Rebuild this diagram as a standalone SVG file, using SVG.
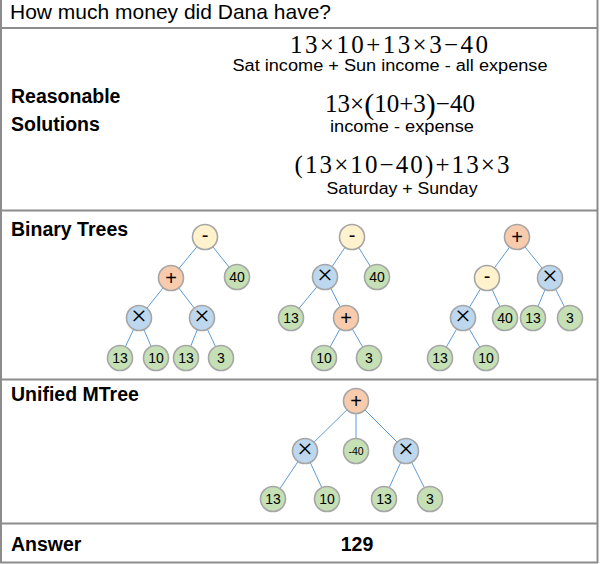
<svg xmlns="http://www.w3.org/2000/svg" width="600" height="564" viewBox="0 0 600 564">
<style>
.grid{stroke:#8c8c8c;stroke-width:2;fill:none}
.lbl{font-family:"Liberation Sans",Arial,sans-serif;font-weight:bold;font-size:19.5px;fill:#000}
.ttl{font-family:"Liberation Sans",Arial,sans-serif;font-size:21px;fill:#000}
.math{font-family:"Liberation Serif","Times New Roman",serif;font-size:25px;fill:#000;text-anchor:middle}
.sub{font-family:"Liberation Sans",Arial,sans-serif;font-size:16px;fill:#000;text-anchor:middle}
.edge{stroke:#5b9bd5;stroke-width:1}
.n{stroke:#a6a6a6;stroke-width:1.6}
.y{fill:#fff2cc}.o{fill:#f8cbad}.b{fill:#bdd7ee}.g{fill:#c5e0b4}
.t{font-family:"Liberation Sans",Arial,sans-serif;font-size:14px;fill:#000;text-anchor:middle}
.ts{font-family:"Liberation Sans",Arial,sans-serif;font-size:10.5px;fill:#000;text-anchor:middle}
.op{font-family:"Liberation Sans",Arial,sans-serif;font-size:20px;fill:#000;text-anchor:middle}
.x{font-family:"Liberation Serif","Times New Roman",serif;font-size:28px;fill:#000;text-anchor:middle}
</style>
<g id="table">
<line class="grid" x1="1" y1="0" x2="1" y2="563"/>
<line class="grid" x1="597.5" y1="0" x2="597.5" y2="563"/>
<line class="grid" x1="0" y1="28" x2="598" y2="28"/>
<line class="grid" x1="0" y1="210.5" x2="598" y2="210.5"/>
<line class="grid" x1="0" y1="379.5" x2="598" y2="379.5"/>
<line class="grid" x1="0" y1="523.5" x2="598" y2="523.5"/>
<line class="grid" x1="0" y1="562.5" x2="598" y2="562.5"/>
</g>
<g id="texts">
<text class="ttl" x="10" y="19">How much money did Dana have?</text>
<text class="lbl" x="11" y="103">Reasonable</text>
<text class="lbl" x="11" y="131">Solutions</text>
<text class="lbl" x="11" y="236">Binary Trees</text>
<text class="lbl" x="11" y="401">Unified MTree</text>
<text class="lbl" x="11" y="551">Answer</text>
<text class="lbl" x="357" y="551" text-anchor="middle">129</text>
<text class="math" x="389" y="52.5" textLength="198" lengthAdjust="spacing">13×10+13×3−40</text>
<text class="sub" x="390" y="71" textLength="315" lengthAdjust="spacingAndGlyphs">Sat income + Sun income - all expense</text>
<text class="math" x="400" y="112">13×<tspan font-size="30" dy="1.5">(</tspan><tspan dy="-1.5">10+3</tspan><tspan font-size="30" dy="1.5">)</tspan><tspan dy="-1.5">−40</tspan></text>
<text class="sub" x="402" y="132" textLength="144" lengthAdjust="spacingAndGlyphs">income - expense</text>
<text class="math" x="402" y="173" textLength="215" lengthAdjust="spacing">(13×10−40)+13×3</text>
<text class="sub" x="402" y="194" textLength="151" lengthAdjust="spacingAndGlyphs">Saturday + Sunday</text>
</g>
<g id="connectors">
<line class="edge" x1="205" y1="237" x2="171" y2="278"/>
<line class="edge" x1="205" y1="237" x2="237" y2="277"/>
<line class="edge" x1="171" y1="278" x2="139" y2="318"/>
<line class="edge" x1="171" y1="278" x2="202" y2="318"/>
<line class="edge" x1="139" y1="318" x2="120" y2="358"/>
<line class="edge" x1="139" y1="318" x2="156" y2="358"/>
<line class="edge" x1="202" y1="318" x2="186" y2="358"/>
<line class="edge" x1="202" y1="318" x2="221" y2="358"/>
<line class="edge" x1="352" y1="237" x2="325" y2="277"/>
<line class="edge" x1="352" y1="237" x2="377" y2="277"/>
<line class="edge" x1="325" y1="277" x2="291" y2="318"/>
<line class="edge" x1="325" y1="277" x2="346" y2="318"/>
<line class="edge" x1="346" y1="318" x2="324" y2="358"/>
<line class="edge" x1="346" y1="318" x2="369" y2="358"/>
<line class="edge" x1="517" y1="237" x2="487" y2="278"/>
<line class="edge" x1="517" y1="237" x2="550" y2="278"/>
<line class="edge" x1="487" y1="278" x2="463" y2="318"/>
<line class="edge" x1="487" y1="278" x2="505" y2="318"/>
<line class="edge" x1="550" y1="278" x2="533" y2="318"/>
<line class="edge" x1="550" y1="278" x2="570" y2="318"/>
<line class="edge" x1="463" y1="318" x2="440" y2="358"/>
<line class="edge" x1="463" y1="318" x2="486" y2="358"/>
<line class="edge" x1="356" y1="401" x2="305" y2="451"/>
<line class="edge" x1="356" y1="401" x2="356" y2="451"/>
<line class="edge" x1="356" y1="401" x2="406" y2="451"/>
<line class="edge" x1="305" y1="451" x2="273" y2="499"/>
<line class="edge" x1="305" y1="451" x2="327" y2="499"/>
<line class="edge" x1="406" y1="451" x2="384" y2="499"/>
<line class="edge" x1="406" y1="451" x2="430" y2="499"/>
</g>
<g id="t1_root"><circle class="n y" cx="205" cy="237" r="12.5"/><text class="op" x="205" y="242">-</text></g>
<g id="t1_plus"><circle class="n o" cx="171" cy="278" r="12.5"/><text class="op" x="171" y="285">+</text></g>
<g id="t1_40"><circle class="n g" cx="237" cy="277" r="12.5"/><text class="t" x="237" y="282">40</text></g>
<g id="t1_x1"><circle class="n b" cx="139" cy="318" r="12.5"/><text class="x" x="139" y="325">×</text></g>
<g id="t1_x2"><circle class="n b" cx="202" cy="318" r="12.5"/><text class="x" x="202" y="325">×</text></g>
<g id="t1_13a"><circle class="n g" cx="120" cy="358" r="12.5"/><text class="t" x="120" y="363">13</text></g>
<g id="t1_10"><circle class="n g" cx="156" cy="358" r="12.5"/><text class="t" x="156" y="363">10</text></g>
<g id="t1_13b"><circle class="n g" cx="186" cy="358" r="12.5"/><text class="t" x="186" y="363">13</text></g>
<g id="t1_3"><circle class="n g" cx="221" cy="358" r="12.5"/><text class="t" x="221" y="363">3</text></g>
<g id="t2_root"><circle class="n y" cx="352" cy="237" r="12.5"/><text class="op" x="352" y="242">-</text></g>
<g id="t2_x"><circle class="n b" cx="325" cy="277" r="12.5"/><text class="x" x="325" y="284">×</text></g>
<g id="t2_40"><circle class="n g" cx="377" cy="277" r="12.5"/><text class="t" x="377" y="282">40</text></g>
<g id="t2_13"><circle class="n g" cx="291" cy="318" r="12.5"/><text class="t" x="291" y="323">13</text></g>
<g id="t2_plus"><circle class="n o" cx="346" cy="318" r="12.5"/><text class="op" x="346" y="325">+</text></g>
<g id="t2_10"><circle class="n g" cx="324" cy="358" r="12.5"/><text class="t" x="324" y="363">10</text></g>
<g id="t2_3"><circle class="n g" cx="369" cy="358" r="12.5"/><text class="t" x="369" y="363">3</text></g>
<g id="t3_root"><circle class="n o" cx="517" cy="237" r="12.5"/><text class="op" x="517" y="244">+</text></g>
<g id="t3_minus"><circle class="n y" cx="487" cy="278" r="12.5"/><text class="op" x="487" y="283">-</text></g>
<g id="t3_x1"><circle class="n b" cx="550" cy="278" r="12.5"/><text class="x" x="550" y="285">×</text></g>
<g id="t3_x2"><circle class="n b" cx="463" cy="318" r="12.5"/><text class="x" x="463" y="325">×</text></g>
<g id="t3_40"><circle class="n g" cx="505" cy="318" r="12.5"/><text class="t" x="505" y="323">40</text></g>
<g id="t3_13"><circle class="n g" cx="533" cy="318" r="12.5"/><text class="t" x="533" y="323">13</text></g>
<g id="t3_3"><circle class="n g" cx="570" cy="318" r="12.5"/><text class="t" x="570" y="323">3</text></g>
<g id="t3_13b"><circle class="n g" cx="440" cy="358" r="12.5"/><text class="t" x="440" y="363">13</text></g>
<g id="t3_10"><circle class="n g" cx="486" cy="358" r="12.5"/><text class="t" x="486" y="363">10</text></g>
<g id="u_plus"><circle class="n o" cx="356" cy="401" r="12.5"/><text class="op" x="356" y="408">+</text></g>
<g id="u_x1"><circle class="n b" cx="305" cy="451" r="12.5"/><text class="x" x="305" y="458">×</text></g>
<g id="u_m40"><circle class="n g" cx="356" cy="451" r="12.5"/><text class="ts" x="356" y="455">-40</text></g>
<g id="u_x2"><circle class="n b" cx="406" cy="451" r="12.5"/><text class="x" x="406" y="458">×</text></g>
<g id="u_13a"><circle class="n g" cx="273" cy="499" r="12.5"/><text class="t" x="273" y="504">13</text></g>
<g id="u_10"><circle class="n g" cx="327" cy="499" r="12.5"/><text class="t" x="327" y="504">10</text></g>
<g id="u_13b"><circle class="n g" cx="384" cy="499" r="12.5"/><text class="t" x="384" y="504">13</text></g>
<g id="u_3"><circle class="n g" cx="430" cy="499" r="12.5"/><text class="t" x="430" y="504">3</text></g>
</svg>
